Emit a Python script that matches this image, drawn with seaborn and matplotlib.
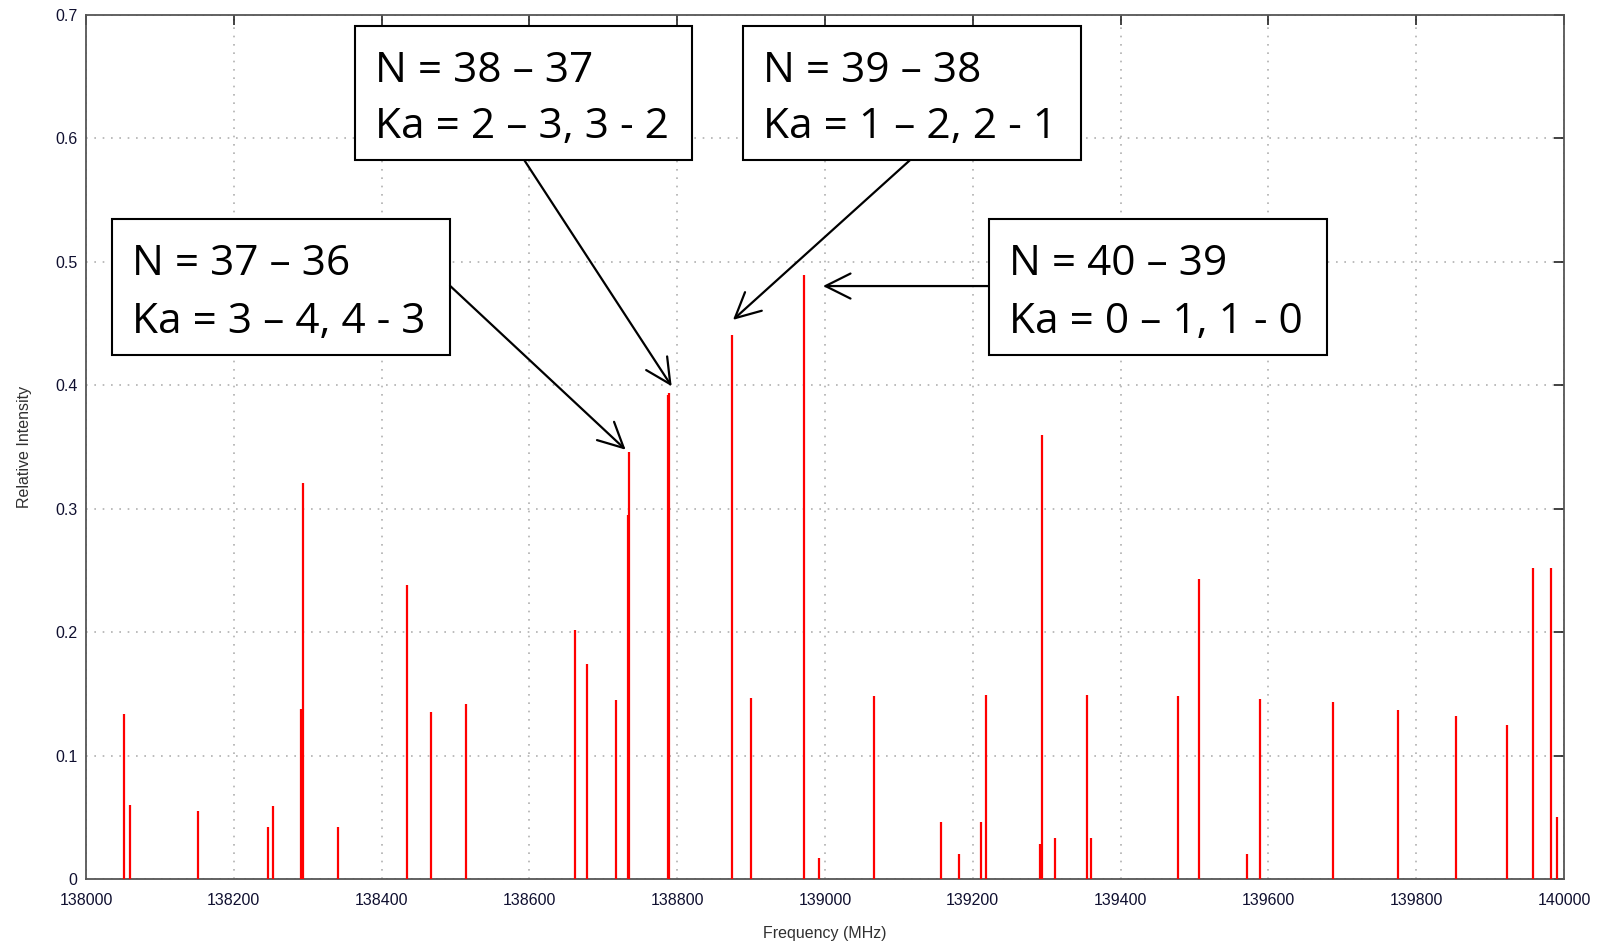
import matplotlib
matplotlib.use("Agg")
import matplotlib.pyplot as plt
import seaborn as sns
import pandas as pd
from matplotlib.patches import Rectangle

# ---- data ----
frequency_mhz = [138051, 138059.5, 138151, 138246.7, 138253.5, 138291.5, 138293.5,
                 138341.4, 138434.8, 138466.4, 138514, 138661.7, 138677.5, 138716.8,
                 138733.2, 138735.4, 138787.3, 138788.8, 138873.7, 138899.9, 138971.6,
                 138991.5, 139066.7, 139157, 139181.8, 139211, 139218.3, 139290.5,
                 139293.6, 139311.6, 139354, 139359.5, 139477.7, 139505.7, 139570.6,
                 139588, 139687, 139775, 139853.9, 139922.5, 139958, 139982.5, 139991]
relative_intensity = [0.134, 0.060, 0.055, 0.042, 0.059, 0.138, 0.321,
                      0.042, 0.238, 0.135, 0.142, 0.202, 0.174, 0.145,
                      0.295, 0.346, 0.392, 0.394, 0.441, 0.147, 0.489,
                      0.017, 0.148, 0.046, 0.020, 0.046, 0.149, 0.028,
                      0.360, 0.033, 0.149, 0.033, 0.148, 0.243, 0.020,
                      0.146, 0.143, 0.137, 0.132, 0.125, 0.252, 0.252, 0.050]

x_ticks = [138000, 138200, 138400, 138600, 138800, 139000, 139200, 139400, 139600, 139800, 140000]
y_ticks = [0, 0.1, 0.2, 0.3, 0.4, 0.5, 0.6, 0.7]

label_lines = [("N = 37 \u2013 36", "Ka = 3 \u2013 4, 4 - 3"),
               ("N = 38 \u2013 37", "Ka = 2 \u2013 3, 3 - 2"),
               ("N = 39 \u2013 38", "Ka = 1 \u2013 2, 2 - 1"),
               ("N = 40 \u2013 39", "Ka = 0 \u2013 1, 1 - 0")]
# box extents (freq left, freq right, intensity bottom, intensity top)
box_x0 = [138035, 138364, 138889, 139222]
box_x1 = [138492.6, 138820, 139346.4, 139679.3]
box_y0 = [0.4246, 0.5827, 0.5827, 0.4246]
box_y1 = [0.5348, 0.6912, 0.6912, 0.5348]
arrow_start = [(138492.6, 0.4806), (138593.2, 0.5823), (139114.8, 0.5823), (139221.4, 0.4804)]
arrow_tip = [(138730.2, 0.3478), (138792.5, 0.3992), (138875.5, 0.4530), (138997.3, 0.4804)]

df = pd.DataFrame({"Frequency (MHz)": frequency_mhz, "Relative Intensity": relative_intensity})

sns.set_theme(style="white")
plt.rcParams["font.family"] = ["Liberation Sans", "DejaVu Sans"]

fig = plt.figure(figsize=(16.03, 9.43), dpi=100)
ax = fig.add_axes([86 / 1603, 1 - 879 / 943, (1564 - 86) / 1603, (879 - 15) / 943])

ax.vlines(df["Frequency (MHz)"], 0, df["Relative Intensity"], color="#ff0000", linewidth=1.6, zorder=3)

ax.set_xlim(138000, 140000)
ax.set_ylim(0, 0.7)
ax.set_xticks(x_ticks)
ax.set_yticks(y_ticks)
ax.set_xticklabels([str(t) for t in x_ticks])
ax.set_yticklabels(["0" if t == 0 else f"{t:.1f}" for t in y_ticks])
ax.grid(True, color="#b0b0b0", linestyle=(0, (1, 4)), linewidth=1.2)
ax.tick_params(direction="in", length=7, width=1.2, color="#222222", top=True, right=True,
               labelsize=11.5, labelcolor="#101030")
ax.tick_params(axis="x", pad=10)
ax.tick_params(axis="y", pad=6)
for s in ax.spines.values():
    s.set_color("#555555")
    s.set_linewidth(1.3)

ax.set_xlabel("Frequency (MHz)", fontsize=11.5, color="#303030", labelpad=13)
ax.set_ylabel("Relative Intensity", fontsize=11.5, color="#303030", labelpad=17)

for i, (l1, l2) in enumerate(label_lines):
    ax.add_patch(Rectangle((box_x0[i], box_y0[i]), box_x1[i] - box_x0[i], box_y1[i] - box_y0[i],
                           facecolor="white", edgecolor="black", linewidth=1.5, zorder=5))
    tx = box_x0[i] + 0.0835 * (box_x1[i] - box_x0[i]) * 0.7
    h = box_y1[i] - box_y0[i]
    ax.text(tx, box_y0[i] + 0.665 * h, l1, fontsize=30.5, family=["Open Sans", "DejaVu Sans"],
            va="center", ha="left", color="black", zorder=6)
    ax.text(tx, box_y0[i] + 0.245 * h, l2, fontsize=30.5, family=["Open Sans", "DejaVu Sans"],
            va="center", ha="left", color="black", zorder=6)
    ax.annotate("", xy=arrow_tip[i], xytext=arrow_start[i],
                arrowprops=dict(arrowstyle="->,head_length=0.9,head_width=0.45", color="black",
                                lw=1.6, mutation_scale=20, shrinkA=0, shrinkB=0), zorder=6)

fig.savefig("out.png", dpi=100)
